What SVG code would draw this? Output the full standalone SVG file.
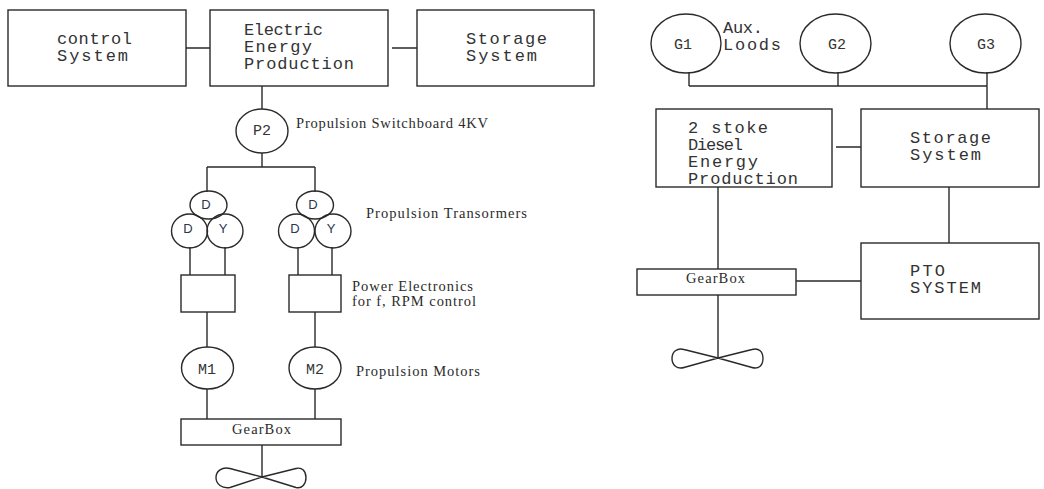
<svg xmlns="http://www.w3.org/2000/svg" width="1044" height="489" viewBox="0 0 1044 489">
<style>
rect,ellipse,path.s{fill:none;stroke:#2a2a2a;stroke-width:1.4}
#connectors path{fill:none;stroke:#2a2a2a;stroke-width:1.4}
text{fill:#333}
.c{font-family:"Liberation Mono","Courier New",monospace;font-size:17px}
.m{font-family:"Liberation Mono","Courier New",monospace;font-size:15px;text-anchor:middle}
.d{font-family:"Liberation Sans",Arial,sans-serif;font-size:13px;text-anchor:middle;fill:#2c3550}
.t{font-family:"Liberation Serif","Times New Roman",serif;font-size:14.5px;fill:#2b2b2b}
</style>
<rect width="1044" height="489" style="stroke:none;fill:#fff"/>
<g id="connectors">
<path d="M186 48H210M392 48H417M262 86V109M262 153V167M207 167H315M207 167V192M315 167V192"/>
<path d="M190 247V275M225 247V275M298 247V275M332 247V275M207 312V347M315 312V347M207 389V419M315 389V419M262 445V477"/>
<path d="M689 72V86M838 72V86M987 72V109M689 86H987M836 147H861M718 187V269M949 187V243M796 281H861M718 295V358"/>
</g>
<g id="control-system"><rect x="8" y="10" width="178" height="76"/><text class="c" x="57" y="44" textLength="75">control</text><text class="c" x="57" y="61" textLength="71">System</text></g>
<g id="electric-energy"><rect x="210" y="10" width="178" height="76"/><text class="c" x="244" y="35" textLength="79">Electric</text><text class="c" x="244" y="52" textLength="68">Energy</text><text class="c" x="244" y="69" textLength="110">Production</text></g>
<g id="storage-left"><rect x="417" y="10" width="177" height="76"/><text class="c" x="466" y="44" textLength="81">Storage</text><text class="c" x="466" y="61" textLength="71">System</text></g>
<g id="p2"><ellipse cx="262" cy="131" rx="26" ry="22"/><text class="m" x="262" y="135">P2</text></g>
<text class="t" x="296" y="128" textLength="192">Propulsion Switchboard 4KV</text>
<g id="t1-d-top"><ellipse cx="208.5" cy="205" rx="18.5" ry="14"/><text class="d" x="206" y="209">D</text></g>
<g id="t1-d"><ellipse cx="189.5" cy="231" rx="18" ry="17"/><text class="d" x="188" y="233">D</text></g>
<g id="t1-y"><ellipse cx="225" cy="231" rx="18" ry="17"/><text class="d" x="223" y="233">Y</text></g>
<g id="t2-d-top"><ellipse cx="315" cy="205" rx="18.5" ry="14"/><text class="d" x="313" y="209">D</text></g>
<g id="t2-d"><ellipse cx="296.5" cy="231" rx="18" ry="17"/><text class="d" x="295" y="233">D</text></g>
<g id="t2-y"><ellipse cx="333" cy="231" rx="18" ry="17"/><text class="d" x="331" y="233">Y</text></g>
<text class="t" x="366" y="218" textLength="161">Propulsion Transormers</text>
<g id="pe1"><rect x="181" y="275" width="54" height="37"/></g>
<g id="pe2"><rect x="289" y="275" width="52" height="37"/></g>
<text class="t" x="352" y="291" textLength="121">Power Electronics</text>
<text class="t" x="352" y="306" textLength="124">for f, RPM  control</text>
<g id="m1"><ellipse cx="207.5" cy="368" rx="26" ry="21"/><text class="m" x="207" y="374">M1</text></g>
<g id="m2"><ellipse cx="315" cy="368" rx="26" ry="21"/><text class="m" x="315" y="374">M2</text></g>
<text class="t" x="356" y="376" textLength="124">Propulsion Motors</text>
<g id="gearbox-left"><rect x="181" y="419" width="160" height="26"/><text class="t" x="232" y="434" textLength="59">GearBox</text></g>
<g id="propeller-left"><path class="s" d="M262 477L230 468.500C222 466.500 216 471 216 477.500C216 484 222 489 230 487.500L262 477L296 468.500C302 467 306 471 306 477.500C306 484 302 489 296 487.500Z"/></g>

<g id="g1"><ellipse cx="686" cy="43.500" rx="35" ry="29.500"/><text class="m" x="683" y="49">G1</text></g>
<text class="c" x="723" y="33" textLength="40">Aux.</text>
<text class="c" x="723" y="50" textLength="58">Loods</text>
<g id="g2"><ellipse cx="835.500" cy="43.500" rx="35.500" ry="29.500"/><text class="m" x="837" y="49">G2</text></g>
<g id="g3"><ellipse cx="985.500" cy="43.500" rx="35.500" ry="29.500"/><text class="m" x="986" y="49">G3</text></g>
<g id="diesel"><rect x="656" y="109" width="176" height="78"/><text class="c" x="688" y="133" textLength="80">2 stoke</text><text class="c" x="688" y="150" textLength="55">Diesel</text><text class="c" x="688" y="167" textLength="70">Energy</text><text class="c" x="688" y="184" textLength="110">Production</text></g>
<g id="storage-right"><rect x="861" y="109" width="178" height="78"/><text class="c" x="910" y="143" textLength="81">Storage</text><text class="c" x="910" y="160" textLength="71">System</text></g>
<g id="pto"><rect x="861" y="243" width="178" height="76"/><text class="c" x="910" y="276" textLength="35">PTO</text><text class="c" x="910" y="293" textLength="71">SYSTEM</text></g>
<g id="gearbox-right"><rect x="637" y="269" width="159" height="26"/><text class="t" x="686" y="283" textLength="59">GearBox</text></g>
<g id="propeller-right"><path class="s" d="M718 358L684 349.500C677 347.500 672 352 672 358.500C672 365 677 369.500 684 367.500L718 358L752 349.500C759 347.500 763 352 763 358.500C763 365 759 369.500 752 367.500Z"/></g>
</svg>
